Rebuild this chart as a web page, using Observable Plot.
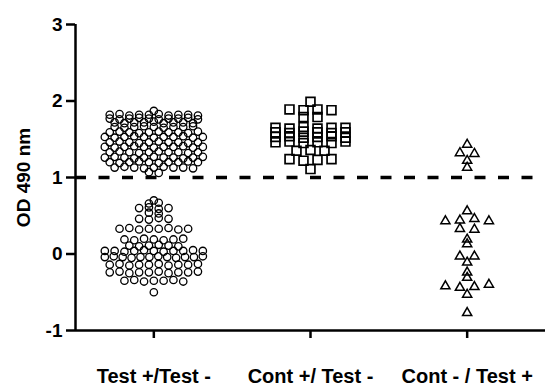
<!DOCTYPE html>
<html><head><meta charset="utf-8">
<script src="https://cdn.jsdelivr.net/npm/d3@7"></script>
<script src="https://cdn.jsdelivr.net/npm/@observablehq/plot@0.6"></script>
<style>body{margin:0;background:#fff}</style>
</head><body><div id="chart"></div>
<script>
const groups = ["Test +/Test -", "Cont +/ Test -", "Cont - / Test +"];

const testPosValues = [
  1.87,
  1.82,1.83,1.81,1.82,1.82,1.83,1.81,1.82,1.82,1.81,
  1.77,1.76,1.77,1.78,1.77,1.76,1.77,1.77,1.78,1.76,
  1.72,1.71,1.72,1.72,1.73,1.71,1.72,1.72,1.71,
  1.66,1.65,1.66,1.67,1.66,1.65,1.66,1.66,1.67,
  1.59,1.60,1.59,1.58,1.59,1.60,1.59,1.59,1.58,1.60,
  1.53,1.52,1.53,1.54,1.53,1.52,1.53,1.53,1.54,1.52,1.53,
  1.46,1.47,1.46,1.45,1.46,1.47,1.46,1.46,1.45,1.46,
  1.40,1.39,1.40,1.41,1.40,1.39,1.40,1.40,1.41,1.39,1.40,
  1.33,1.34,1.33,1.32,1.33,1.34,1.33,1.33,1.32,1.33,
  1.26,1.27,1.26,1.25,1.26,1.27,1.26,1.26,1.25,1.26,1.27,
  1.20,1.19,1.20,1.21,1.20,1.19,1.20,1.20,1.21,1.20,
  1.13,1.14,1.13,1.12,1.13,1.14,1.13,1.13,1.12,
  1.07,1.06,
  0.70,
  0.66,0.67,
  0.60,0.61,0.59,0.60,
  0.54,0.53,
  0.46,0.45,0.47,0.46,
  0.33,0.34,0.32,0.33,0.33,0.34,0.32,0.33,
  0.19,0.18,0.20,0.19,0.18,0.19,0.20,
  0.11,0.10,0.11,0.12,0.11,0.10,
  0.04,0.04,0.03,0.04,0.05,0.04,0.03,0.04,0.04,0.05,0.04,
  -0.04,-0.03,-0.04,-0.05,-0.04,-0.04,-0.03,-0.04,-0.05,-0.04,-0.04,-0.03,
  -0.14,-0.13,-0.15,-0.14,-0.14,-0.13,-0.15,-0.14,-0.14,-0.13,
  -0.24,-0.23,-0.25,-0.24,-0.24,-0.23,-0.25,-0.24,-0.24,-0.23,
  -0.35,-0.34,-0.36,-0.35,-0.35,-0.34,-0.36,
  -0.50
];

const contPosValues = [
  1.99,
  1.89,1.88,1.89,1.88,
  1.79,1.79,
  1.65,1.64,1.66,1.64,1.65,1.65,
  1.59,1.58,1.60,1.59,1.58,1.59,
  1.53,1.54,1.52,1.53,1.54,1.52,
  1.46,1.47,1.45,1.46,1.45,1.47,
  1.35,1.36,1.35,
  1.24,1.22,1.23,1.24,
  1.11
];

const contNegValues = [
  1.43,
  1.32,1.31,
  1.22,
  1.13,
  0.56,
  0.43,0.44,0.46,0.43,
  0.33,0.32,
  0.19,
  0.13,
  -0.03,-0.03,
  -0.11,
  -0.24,
  -0.31,
  -0.42,-0.44,-0.43,-0.40,
  -0.53,
  -0.77
];

const yTicks = [-1, 0, 1, 2, 3];
const cutoff = 1;
const yLabel = "OD 490 nm";

const W = 547, H = 387, mL = 75, mR = 2, mT = 24, mB = 57;
const pxPerGroup = (W - mL - mR) / groups.length;

// column-scatter layout: values close in y share a row and are spread horizontally
function spread(values, gi, step, maxW, tol) {
  const sorted = values.map((v, i) => ({v, i})).sort((a, b) => b.v - a.v || a.i - b.i);
  const rows = [];
  let cur = null;
  for (const p of sorted) {
    if (!cur || p.v < cur.top - tol) { cur = {top: p.v, pts: []}; rows.push(cur); }
    cur.pts.push(p);
  }
  const out = [];
  for (const r of rows) {
    r.pts.sort((a, b) => a.i - b.i);
    const n = r.pts.length;
    const s = n > 1 ? Math.min(step, maxW / (n - 1)) : 0;
    r.pts.forEach((p, k) => out.push({group: groups[gi], value: p.v, pos: gi + (k - (n - 1) / 2) * s / pxPerGroup}));
  }
  return out;
}

const circles = spread(testPosValues, 0, 9.8, 98, 0.025);
const squares = spread(contPosValues, 1, 14, 90, 0.025);
const triangles = spread(contNegValues, 2, 14.5, 60, 0.045);

const xDomain = [-0.5, groups.length - 0.5];
const yDomain = [yTicks[0], yTicks[yTicks.length - 1]];

const chart = Plot.plot({
  width: W, height: H,
  marginLeft: mL, marginRight: mR, marginTop: mT, marginBottom: mB,
  style: {fontFamily: "'Liberation Sans', Arial, sans-serif", fontWeight: "bold", fontSize: "20px", color: "black", background: "white"},
  x: {domain: xDomain, axis: null},
  y: {domain: yDomain, axis: null},
  marks: [
    Plot.ruleY([cutoff], {stroke: "black", strokeWidth: 3.5, strokeDasharray: "11,12.5"}),
    Plot.dot(circles, {x: "pos", y: "value", r: 3.7, stroke: "black", strokeWidth: 1.3, fill: "none"}),
    Plot.dot(squares, {x: "pos", y: "value", symbol: "square", r: 5, stroke: "black", strokeWidth: 1.7, fill: "none"}),
    Plot.dot(triangles, {x: "pos", y: "value", symbol: "triangle", r: 3.4, stroke: "black", strokeWidth: 1.5, fill: "none"}),
    Plot.axisY({ticks: yTicks, tickFormat: d => String(d), tickSize: 9, tickPadding: 4, strokeWidth: 2.5, fontSize: 19,
      label: yLabel, labelAnchor: "center", labelArrow: false, labelOffset: 59}),
    Plot.axisX({ticks: d3.range(groups.length), tickFormat: i => groups[i], tickSize: 8, tickPadding: 30, strokeWidth: 2.5, fontSize: 20, label: null}),
    Plot.ruleX([xDomain[0]], {y1: yDomain[0], y2: yDomain[1], stroke: "black", strokeWidth: 2.5}),
    Plot.ruleY([yDomain[0]], {stroke: "black", strokeWidth: 2.5})
  ]
});
document.getElementById("chart").appendChild(chart);
</script>
</body></html>
